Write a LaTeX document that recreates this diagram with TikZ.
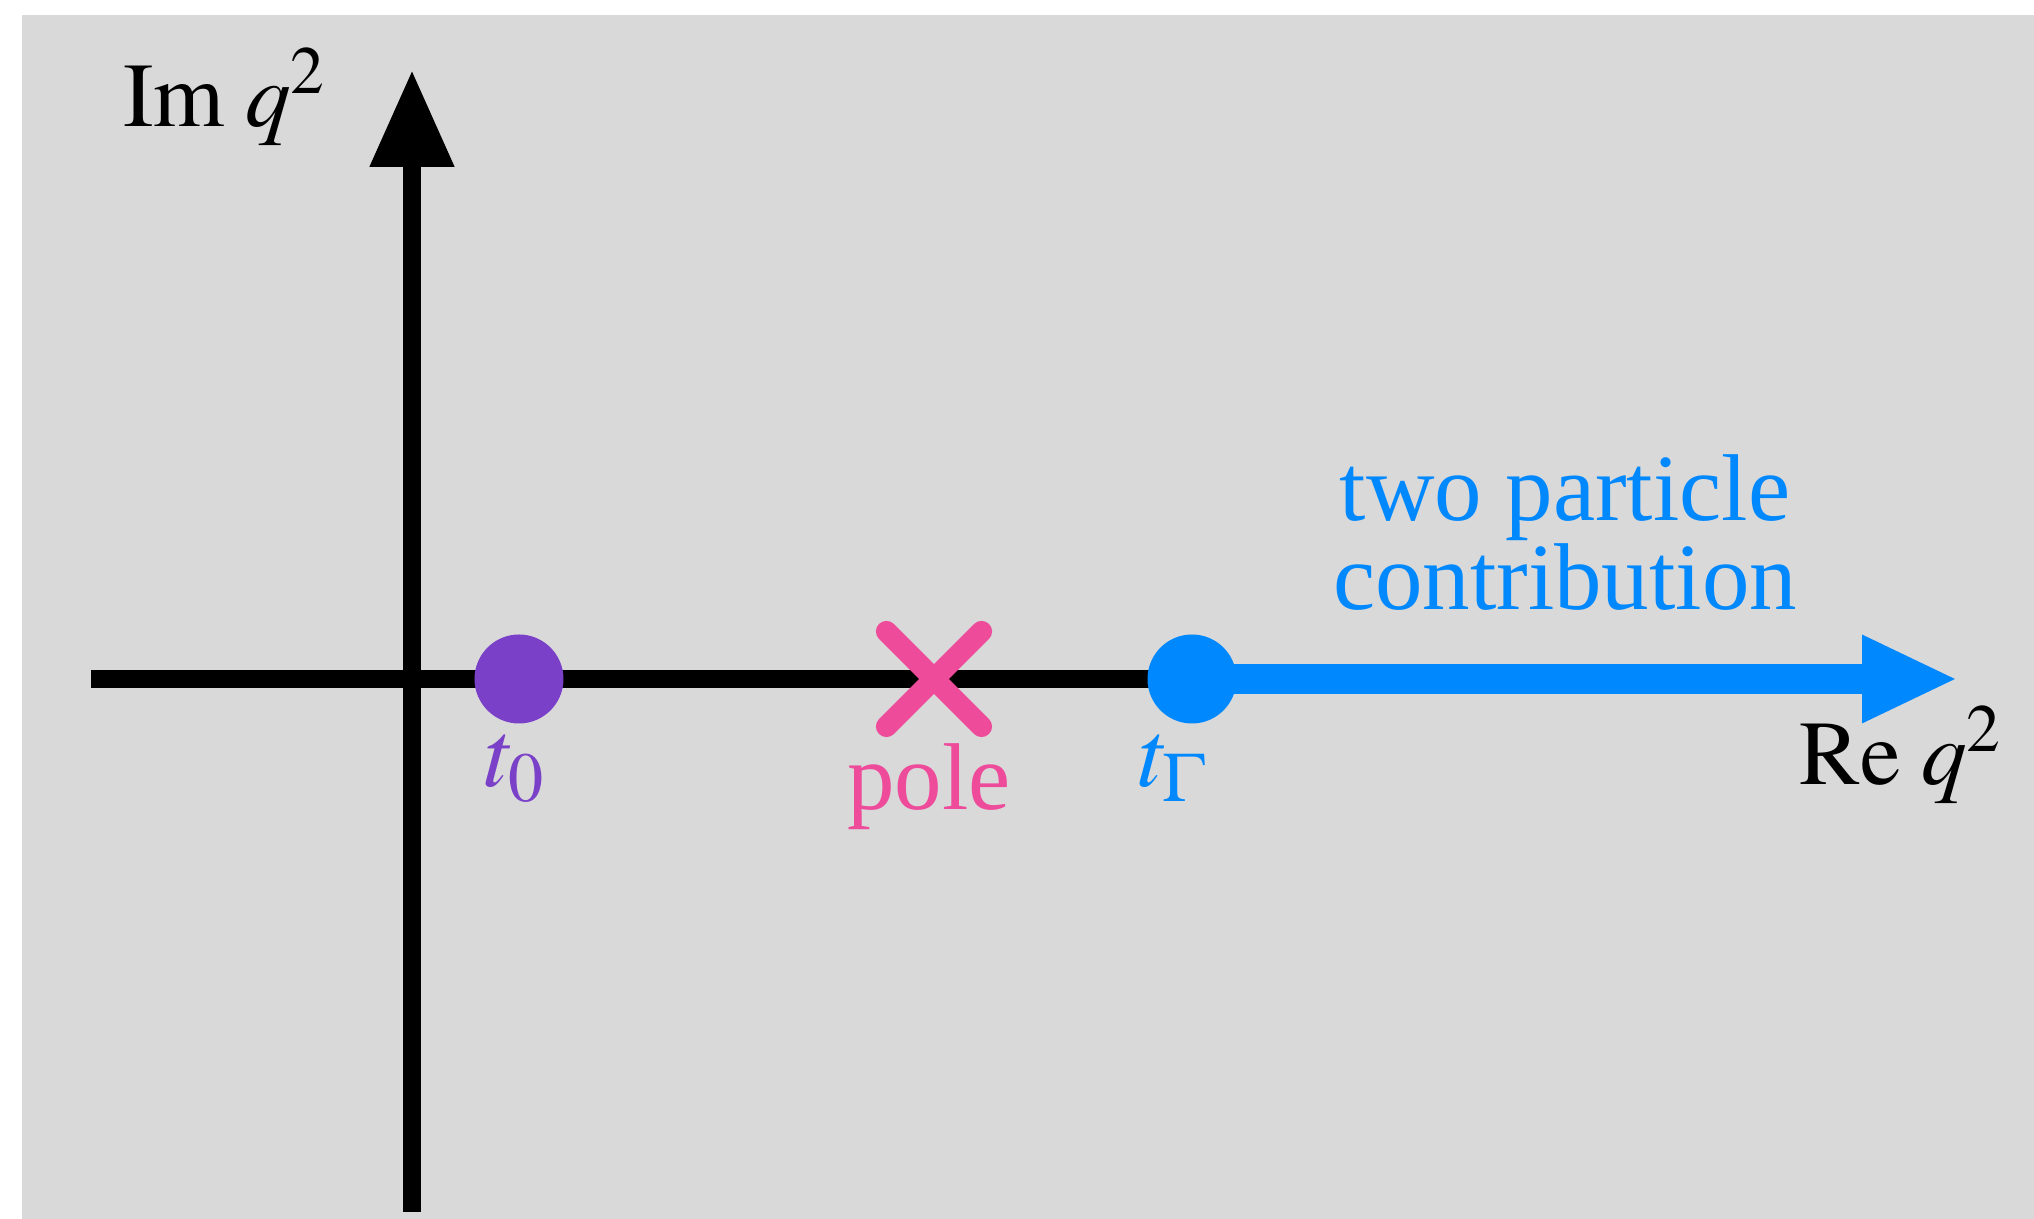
\documentclass[tikz,border=0pt]{standalone}
\usepackage{mathptmx}
\usepackage[no-math]{fontspec}
\setmainfont{Liberation Serif}
\usetikzlibrary{arrows.meta,shapes.misc}
\definecolor{bggray}{HTML}{D9D9D9}
\definecolor{tzero}{HTML}{7A40C8}
\definecolor{polepink}{HTML}{EE4B9B}
\definecolor{twoblue}{HTML}{0088FF}

\begin{document}
\begin{tikzpicture}[
  axis/.style={line width=5.1pt},
  bigdot/.style={circle, inner sep=0pt, minimum size=0.89cm},
  lab/.style={anchor=base, font=\fontsize{27}{27}\selectfont},
  axlab/.style={anchor=base, font=\fontsize{26}{26}\selectfont}]
%% --- canvas ---
\useasboundingbox (-4.12,-5.40) rectangle (16.22,6.79);
\fill[bggray] (-3.90,-5.40) rectangle (16.22,6.64);
%% --- axes ---
\coordinate (xl) at (-3.21,0);
\coordinate (xtip) at (15.46,0);
\coordinate (ybot) at (0,-5.33);
\coordinate (ytop) at (0,6.09);
\coordinate (t0pos) at (1.07,0);
\coordinate (polepos) at (5.22,0);
\coordinate (tGpos) at (7.80,0);
\draw[axis,-{Triangle[length=0.97cm,width=0.80cm]}] (ybot) -- (ytop);
\draw[axis] (xl) -- (tGpos);
\draw[line width=8.8pt,twoblue,-{Triangle[length=0.96cm,width=0.81cm]}] (tGpos) -- (xtip);
%% --- points on the real axis ---
\node[bigdot,fill=tzero] (t0) at (t0pos) {};
\node[cross out,draw=polepink,line width=6pt,line cap=round,
      inner sep=0pt,minimum size=0.74cm] (pole) at (polepos) {};
\node[bigdot,fill=twoblue] (tG) at (tGpos) {};
%% --- labels ---
\node[axlab] (imlab) at (-1.87,5.52) {$\mathrm{Im}\;q^2$};
\node[axlab] (relab) at (14.89,-1.06) {$\mathrm{Re}\;q^2$};
\node[lab,text=tzero] (t0lab) at (1.03,-1.08) {$t_0$};
\node[lab,text=polepink] (polelab) at (5.17,-1.31) {pole};
\node[lab,text=twoblue] (tGlab) at (7.61,-1.08) {$t_\Gamma$};
\node[anchor=base,text=twoblue,align=center,font=\fontsize{27}{25.5}\selectfont]
  (twolab) at (11.53,0.69) {two particle\\contribution};
\end{tikzpicture}
\end{document}
